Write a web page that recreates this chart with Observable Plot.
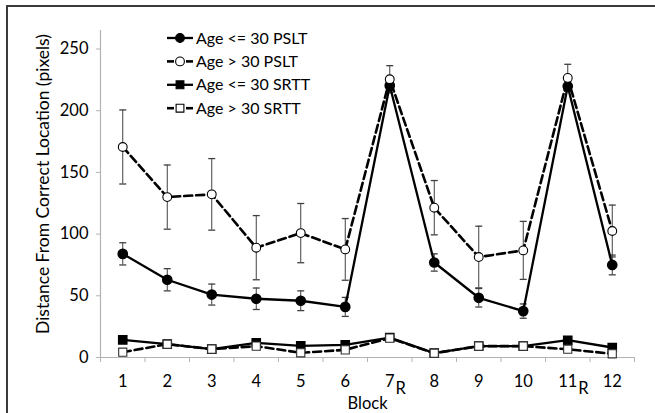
<!DOCTYPE html>
<html><head><meta charset="utf-8">
<script src="https://cdn.jsdelivr.net/npm/d3@7"></script>
<script src="https://cdn.jsdelivr.net/npm/@observablehq/plot@0.6"></script>
<style>
body{margin:0;background:#fff;}
#wrap{position:relative;width:655px;height:413px;overflow:hidden;}
#frame{position:absolute;left:6px;top:5px;width:700px;height:500px;border-top:2px solid #3a3a3a;border-left:2px solid #3a3a3a;pointer-events:none;}
#chart{position:absolute;left:0;top:0;}
</style></head><body>
<div id="wrap"><div id="chart"></div><div id="frame"></div></div>
<script>
// ---- data ----
const blocks = [1, 2, 3, 4, 5, 6, 7, 8, 9, 10, 11, 12];
const tickLabels = ["1", "2", "3", "4", "5", "6", "7", "8", "9", "10", "11", "12"];
const rBlocks = [7, 11];
const seriesNames = ["Age <= 30 PSLT", "Age > 30 PSLT", "Age <= 30 SRTT", "Age > 30 SRTT"];
const youngPSLT    = [84, 63, 51, 47.6, 46, 41, 220.5, 77, 48.4, 37.6, 219.8, 75];
const youngPSLTErr = [9, 9, 8.5, 8.7, 8, 7.7, 4, 7, 7.5, 5.8, 4, 8];
const oldPSLT      = [170.6, 130, 132.2, 89, 100.8, 87.6, 225.5, 121.4, 81.4, 86.8, 226.6, 102.5];
const oldPSLTErr   = [30, 26, 29, 26, 24, 25, 11, 22, 25, 23.5, 11, 21];
const youngSRTT    = [14.3, 10.8, 6.8, 11.9, 9.5, 10.3, 16.2, 3.5, 9.2, 9.2, 14, 8.1];
const oldSRTT      = [4.3, 10.8, 6.8, 9.2, 3.8, 6.2, 15.7, 3.5, 9.2, 9.2, 6.7, 3.0];
const yTicks = [0, 50, 100, 150, 200, 250];
const yMax = 265;

// ---- build rows ----
const rows = (vals, name, errs) => blocks.map((b, i) => ({block: b, value: vals[i], err: errs ? errs[i] : 0, series: name}));
const sA = rows(youngPSLT, seriesNames[0], youngPSLTErr);
const sB = rows(oldPSLT, seriesNames[1], oldPSLTErr);
const sC = rows(youngSRTT, seriesNames[2]);
const sD = rows(oldSRTT, seriesNames[3]);
const errRows = [...sA, ...sB];

const capSymbol = {draw(ctx, size) { const r = Math.sqrt(size / Math.PI); ctx.moveTo(-r, 0); ctx.lineTo(r, 0); }};

const FONT = "Lato, 'Liberation Sans', sans-serif";
const dash = "8,4";
const xDomain = [0.5, blocks.length + 0.5];
const boundaries = d3.range(xDomain[0], xDomain[1] + 0.01, 1);
const AX = "#b3b3b3";

const chart = Plot.plot({
  width: 655, height: 413,
  marginLeft: 100, marginRight: 21, marginTop: 30, marginBottom: 56,
  style: {fontFamily: FONT, fontSize: "16px", color: "#000", background: "white"},
  x: {type: "linear", domain: xDomain},
  y: {type: "linear", domain: [0, yMax]},
  marks: [
    // axes
    Plot.axisX({ticks: boundaries, tickSize: 5, tickFormat: () => "", stroke: AX, label: null}),
    Plot.axisY({ticks: yTicks, tickSize: 4, tickPadding: 8, stroke: AX, fill: "#000", fontSize: 16.5, label: null}),
    Plot.ruleY([0], {stroke: AX, strokeWidth: 1.2}),
    Plot.ruleX([xDomain[0]], {y1: 0, y2: yMax, stroke: AX, strokeWidth: 1.2}),
    Plot.text(tickLabels, {x: (d, i) => blocks[i], y: 0, dy: 24, text: d => d, fontSize: 16.5, fill: "#000"}),
    Plot.text(["Block"], {frameAnchor: "bottom", lineAnchor: "middle", dy: 46, fontSize: 16.5, fill: "#000"}),
    Plot.text(["Distance From Correct Location (pixels)"], {frameAnchor: "left", textAnchor: "middle", rotate: -90, dx: -57, dy: -10, fontSize: 17.5, fill: "#000"}),
    // error bars
    Plot.ruleX(errRows, {x: "block", y1: d => d.value - d.err, y2: d => d.value + d.err, stroke: "#404040", strokeWidth: 1}),
    Plot.dot(errRows, {x: "block", y: d => d.value + d.err, symbol: capSymbol, r: 3.5, stroke: "#404040", fill: "none", strokeWidth: 1.3}),
    Plot.dot(errRows, {x: "block", y: d => d.value - d.err, symbol: capSymbol, r: 3.5, stroke: "#404040", fill: "none", strokeWidth: 1.3}),
    // lines
    Plot.line(sA, {x: "block", y: "value", stroke: "#000", strokeWidth: 2.3}),
    Plot.line(sB, {x: "block", y: "value", stroke: "#000", strokeWidth: 2.6, strokeDasharray: dash}),
    Plot.line(sC, {x: "block", y: "value", stroke: "#000", strokeWidth: 2.3}),
    Plot.line(sD, {x: "block", y: "value", stroke: "#000", strokeWidth: 2.6, strokeDasharray: dash}),
    // markers
    Plot.dot(sA, {x: "block", y: "value", r: 4.6, fill: "#000", stroke: "#000"}),
    Plot.dot(sB, {x: "block", y: "value", r: 4.4, fill: "#fff", stroke: "#000", strokeWidth: 1.1}),
    Plot.dot(sC, {x: "block", y: "value", symbol: "square", r: 4.6, fill: "#000", stroke: "#000"}),
    Plot.dot(sD, {x: "block", y: "value", symbol: "square", r: 4.6, fill: "#fff", stroke: "#333", strokeWidth: 1.1})
  ]
});
document.getElementById("chart").appendChild(chart);

const svg = d3.select(chart);

// subscript R after 7 and 11
const rLabels = rBlocks.map(String);
svg.selectAll("text").each(function() {
  if (this.childNodes.length === 1 && rLabels.includes(this.textContent)) {
    const w = this.getComputedTextLength();
    this.setAttribute("text-anchor", "start");
    this.setAttribute("x", -w / 2);
    d3.select(this).append("tspan").attr("dx", 1).attr("dy", "0.45em").text("R");
  }
});

// legend
const legendRows = [
  {name: seriesNames[0], symbol: "circle", fill: "#000", dashed: false},
  {name: seriesNames[1], symbol: "circle", fill: "#fff", dashed: true},
  {name: seriesNames[2], symbol: "square", fill: "#000", dashed: false},
  {name: seriesNames[3], symbol: "square", fill: "#fff", dashed: true}
];
const lg = svg.append("g").attr("font-family", FONT).attr("font-size", 16).attr("text-anchor", "start");
legendRows.forEach((r, i) => {
  const y = 38 + i * 23.4;
  const g = lg.append("g").attr("transform", `translate(180,${y})`);
  if (r.dashed) {
    g.append("line").attr("x1", -13).attr("x2", -6).attr("stroke", "#000").attr("stroke-width", 2.6);
    g.append("line").attr("x1", 6).attr("x2", 13).attr("stroke", "#000").attr("stroke-width", 2.6);
  } else {
    g.append("line").attr("x1", -13).attr("x2", 13).attr("stroke", "#000").attr("stroke-width", 2.3);
  }
  const sym = r.symbol === "circle" ? d3.symbolCircle : d3.symbolSquare;
  g.append("path").attr("d", d3.symbol(sym, Math.PI * 4.4 * 4.4)()).attr("fill", r.fill).attr("stroke", "#000").attr("stroke-width", 1.1);
  g.append("text").attr("x", 16).attr("dy", "0.35em").attr("fill", "#000").text(r.name);
});
</script>
</body></html>
